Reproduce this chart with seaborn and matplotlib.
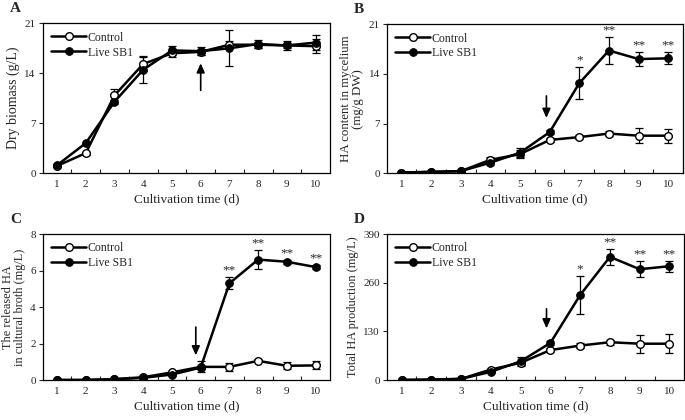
import numpy as np
import pandas as pd
import matplotlib
matplotlib.use("Agg")
import matplotlib.pyplot as plt
import seaborn as sns
from matplotlib.ticker import FixedLocator

sns.set_theme(style="ticks")
plt.rcParams["font.family"] = ["Liberation Serif", "DejaVu Serif"]

days = list(range(1, 11))

# A: dry biomass (g/L)
bio_ctrl = [1.0, 2.8, 10.9, 15.3, 16.8, 17.0, 18.0, 18.0, 17.9, 17.8]
bio_ctrl_err = [0.2, 0.2, 0.9, 1.0, 0.5, 0.4, 0.5, 0.4, 0.4, 1.0]
bio_sb1 = [1.1, 4.2, 10.0, 14.5, 17.2, 17.1, 17.5, 18.1, 17.9, 18.3]
bio_sb1_err = [0.2, 0.2, 0.3, 1.9, 0.6, 0.6, 2.5, 0.5, 0.6, 1.0]

# B: HA content in mycelium (mg/g DW)
myc_ctrl = [0.1, 0.2, 0.3, 1.9, 2.7, 4.7, 5.1, 5.6, 5.3, 5.3]
myc_ctrl_err = [0.05, 0.1, 0.1, 0.4, 0.6, 0.3, 0.3, 0.3, 1.1, 1.0]
myc_sb1 = [0.1, 0.2, 0.3, 1.5, 2.9, 5.8, 12.7, 17.3, 16.1, 16.2]
myc_sb1_err = [0.05, 0.1, 0.1, 0.3, 0.6, 0.3, 2.3, 1.9, 1.0, 0.85]

# C: released HA in broth (mg/L)
rel_ctrl = [0.0, 0.0, 0.05, 0.15, 0.42, 0.72, 0.72, 1.05, 0.78, 0.8]
rel_ctrl_err = [0.0, 0.0, 0.02, 0.05, 0.08, 0.3, 0.2, 0.08, 0.2, 0.22]
rel_sb1 = [0.0, 0.0, 0.04, 0.12, 0.3, 0.68, 5.3, 6.6, 6.48, 6.19]
rel_sb1_err = [0.0, 0.0, 0.02, 0.04, 0.06, 0.1, 0.33, 0.5, 0.1, 0.1]

# D: total HA production (mg/L)
tot_ctrl = [0, 1, 3, 28, 46, 80, 92, 101, 97, 97]
tot_ctrl_err = [0, 1, 1, 5, 6, 6, 6, 7, 24, 25]
tot_sb1 = [0, 1, 3, 22, 50, 99, 227, 329, 296, 304]
tot_sb1_err = [0, 1, 1, 4, 12, 5, 50, 22, 21, 15]

stars_b = {7: "*", 8: "**", 9: "**", 10: "**"}
stars_c = {7: "**", 8: "**", 9: "**", 10: "**"}
stars_d = {7: "*", 8: "**", 9: "**", 10: "**"}

panels = [
    dict(label="A", pos=[0.0623, 0.588, 0.4194, 0.3564],
         ctrl=bio_ctrl, ctrl_err=bio_ctrl_err, sb1=bio_sb1, sb1_err=bio_sb1_err,
         yticks=[0, 7, 14, 21], ylabel="Dry biomass (g/L)", ysize=10, stars={},
         arrow=((6, 11.6), (6, 15.4))),
    dict(label="B", pos=[0.5645, 0.5874, 0.4326, 0.3548],
         ctrl=myc_ctrl, ctrl_err=myc_ctrl_err, sb1=myc_sb1, sb1_err=myc_sb1_err,
         yticks=[0, 7, 14, 21], ylabel="HA content in mycelium\n(mg/g DW)", ysize=9.3,
         stars=stars_b, arrow=((5.89, 10.9), (5.89, 7.8))),
    dict(label="C", pos=[0.0623, 0.0952, 0.4194, 0.3476],
         ctrl=rel_ctrl, ctrl_err=rel_ctrl_err, sb1=rel_sb1, sb1_err=rel_sb1_err,
         yticks=[0, 2, 4, 6, 8], ylabel="The released HA\nin cultural broth (mg/L)", ysize=8.8,
         stars=stars_c, arrow=((5.83, 2.9), (5.83, 1.35))),
    dict(label="D", pos=[0.5645, 0.0952, 0.4345, 0.3476],
         ctrl=tot_ctrl, ctrl_err=tot_ctrl_err, sb1=tot_sb1, sb1_err=tot_sb1_err,
         yticks=[0, 130, 260, 390], ylabel="Total HA production (mg/L)", ysize=8.9,
         stars=stars_d, arrow=((5.87, 190), (5.87, 138))),
]

fig = plt.figure(figsize=(6.85, 4.2), dpi=100)

for p in panels:
    ax = fig.add_axes(p["pos"])
    df = pd.DataFrame({
        "day": days * 2,
        "value": p["sb1"] + p["ctrl"],
        "group": ["Live SB1"] * 10 + ["Control"] * 10,
    })
    err = p["sb1_err"] + p["ctrl_err"]
    ax.errorbar(df["day"], df["value"], yerr=err, fmt="none", ecolor="black",
                elinewidth=0.9, capsize=3, capthick=0.9, zorder=2)
    sns.lineplot(data=df[df.group == "Control"], x="day", y="value", ax=ax,
                 color="black", lw=1.8, marker="o", markersize=5.5,
                 markerfacecolor="white", markeredgecolor="black",
                 markeredgewidth=1.0, label="Control", zorder=3)
    sns.lineplot(data=df[df.group == "Live SB1"], x="day", y="value", ax=ax,
                 color="black", lw=1.8, marker="o", markersize=5.5,
                 markerfacecolor="black", markeredgecolor="black",
                 label="Live SB1", zorder=4)

    top = p["yticks"][-1]
    ax.set_xlim(0.5, 10.5)
    ax.set_ylim(0, top)
    ax.set_yticks(p["yticks"])
    ax.set_xticks(days)
    ax.xaxis.set_minor_locator(FixedLocator(np.arange(1.5, 10, 1)))
    ax.tick_params(axis="x", which="major", length=0, labelsize=8, pad=5)
    ax.tick_params(axis="x", which="minor", length=3, direction="in", width=0.8)
    ax.tick_params(axis="y", length=3, direction="out", width=0.8, labelsize=8, pad=2)
    for s in ax.spines.values():
        s.set_visible(True)
        s.set_linewidth(0.9)
        s.set_color("black")
    ax.set_xlabel("Cultivation time (d)", fontsize=9.5, labelpad=3)
    ax.set_ylabel(p["ylabel"], fontsize=p["ysize"], labelpad=3, linespacing=1.0)

    for d, s in p["stars"].items():
        i = days.index(d)
        ax.text(d, p["sb1"][i] + p["sb1_err"][i] + top * 0.005, s,
                ha="center", va="bottom", fontsize=9.5)

    (x0, y0), (x1, y1) = p["arrow"]
    ax.annotate("", xy=(x1, y1), xytext=(x0, y0),
                arrowprops=dict(arrowstyle="-|>,head_length=0.45,head_width=0.2",
                                color="black", lw=1.2, shrinkA=0, shrinkB=0))

    leg = ax.legend(loc="upper left", frameon=False, fontsize=8.5,
                    handlelength=3.0, handletextpad=0.1, borderaxespad=0.3,
                    labelspacing=0.25)

    fig.text(p["pos"][0] - 0.048, p["pos"][1] + p["pos"][3] + 0.035, p["label"],
             fontsize=11, fontweight="bold", ha="left", va="center")

fig.savefig("out.png", dpi=100)
